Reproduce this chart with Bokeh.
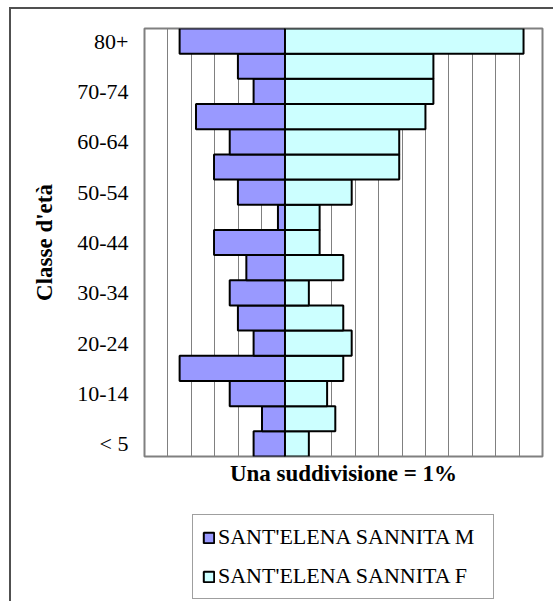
from bokeh.plotting import figure
from bokeh.layouts import column
from bokeh.models import (Range1d, FixedTicker, Legend, LegendItem,
                          ColumnDataSource)
from bokeh.embed import file_html
from bokeh.resources import INLINE

# ---- data (percent of population), bottom to top ----
categories = ["< 5", "5-9", "10-14", "15-19", "20-24", "25-29", "30-34", "35-39",
              "40-44", "45-49", "50-54", "55-59", "60-64", "65-69", "70-74",
              "75-79", "80+"]
male = [1.34, 0.98, 2.36, 4.5, 1.34, 2.01, 2.36, 1.65, 3.03, 0.3, 2.01, 3.03,
        2.36, 3.8, 1.34, 2.01, 4.5]
female = [1.02, 2.15, 1.8, 2.49, 2.85, 2.49, 1.02, 2.49, 1.48, 1.48, 2.85, 4.88,
          4.88, 6.0, 6.34, 6.34, 10.19]
tick_indices = [0, 2, 4, 6, 8, 10, 12, 14, 16]
grid_ticks = list(range(-6, 12))
label_m = "SANT'ELENA SANNITA M"
label_f = "SANT'ELENA SANNITA F"
x_title = "Una suddivisione = 1%"
y_title = "Classe d'età"

FONT = "Liberation Serif"
COL_M = "#9999FF"
COL_F = "#CCFFFF"

ypos = list(range(len(categories)))
src_m = ColumnDataSource(dict(y=ypos, left=[-v for v in male], right=[0] * len(male)))
src_f = ColumnDataSource(dict(y=ypos, left=[0] * len(female), right=female))

# ---------------- main pyramid ----------------
p = figure(frame_width=398, frame_height=428,
           x_range=Range1d(-6, 11), y_range=Range1d(-0.5, len(categories) - 0.5),
           output_backend="svg", toolbar_location=None,
           min_border_left=133, min_border_top=19, min_border_right=11,
           min_border_bottom=40)
p.background_fill_color = "white"
p.border_fill_color = "white"
p.outline_line_color = "#808080"
p.outline_line_width = 2

r_m = p.hbar(y="y", left="left", right="right", height=1.0, source=src_m,
             fill_color=COL_M, line_color="black", line_width=2)
r_f = p.hbar(y="y", left="left", right="right", height=1.0, source=src_f,
             fill_color=COL_F, line_color="black", line_width=2)

p.ygrid.visible = False
p.xgrid.ticker = FixedTicker(ticks=grid_ticks)
p.xgrid.grid_line_color = "#808080"
p.xgrid.grid_line_width = 1

xa = p.xaxis[0]
xa.ticker = FixedTicker(ticks=[])
xa.axis_line_color = None
xa.major_tick_out = 0
xa.major_tick_in = 0
xa.minor_tick_out = 0
xa.minor_tick_in = 0
xa.major_label_text_font_size = "0px"
xa.axis_label = x_title
xa.axis_label_text_font = FONT
xa.axis_label_text_font_style = "bold"
xa.axis_label_text_font_size = "23px"
xa.axis_label_text_color = "black"
xa.axis_label_standoff = 4

ya = p.yaxis[0]
ya.ticker = FixedTicker(ticks=tick_indices)
ya.major_label_overrides = {i: categories[i] for i in tick_indices}
ya.axis_line_color = None
ya.major_tick_out = 0
ya.major_tick_in = 0
ya.minor_tick_out = 0
ya.minor_tick_in = 0
ya.major_label_standoff = 16
ya.major_label_text_font = FONT
ya.major_label_text_font_size = "22px"
ya.major_label_text_color = "black"
ya.axis_label = y_title
ya.axis_label_text_font = FONT
ya.axis_label_text_font_style = "bold"
ya.axis_label_text_font_size = "23px"
ya.axis_label_text_color = "black"
ya.axis_label_standoff = 17

# ---------------- legend strip ----------------
p2 = figure(width=542, height=105, x_range=Range1d(-6, 11),
            y_range=Range1d(-0.5, len(categories) - 0.5),
            x_axis_type=None, y_axis_type=None,
            output_backend="svg", toolbar_location=None,
            min_border=0)
p2.grid.visible = False
p2.outline_line_color = None
p2.background_fill_color = "white"
p2.border_fill_color = "white"
lm = p2.hbar(y="y", left="left", right="right", height=1.0, source=src_m,
             fill_color=COL_M, line_color="black", line_width=2, visible=False)
lf = p2.hbar(y="y", left="left", right="right", height=1.0, source=src_f,
             fill_color=COL_F, line_color="black", line_width=2, visible=False)

legend = Legend(items=[LegendItem(label=label_m, renderers=[lm]),
                       LegendItem(label=label_f, renderers=[lf])],
                location=(48, 2), orientation="vertical",
                label_text_font=FONT, label_text_font_size="22px",
                label_text_color="black",
                glyph_width=13, glyph_height=13, label_standoff=3,
                label_width=266, label_height=25, spacing=13, padding=9,
                margin=0, border_line_color="#404040", border_line_width=1,
                background_fill_color="white", background_fill_alpha=1,
                inactive_fill_alpha=0)
p2.add_layout(legend)

layout = column(p, p2, spacing=0)
layout.styles = {"margin-left": "9px", "margin-top": "7px",
                 "border-left": "2px solid #505050",
                 "border-top": "2px solid #505050"}

open("out.html", "w").write(file_html(layout, INLINE))
